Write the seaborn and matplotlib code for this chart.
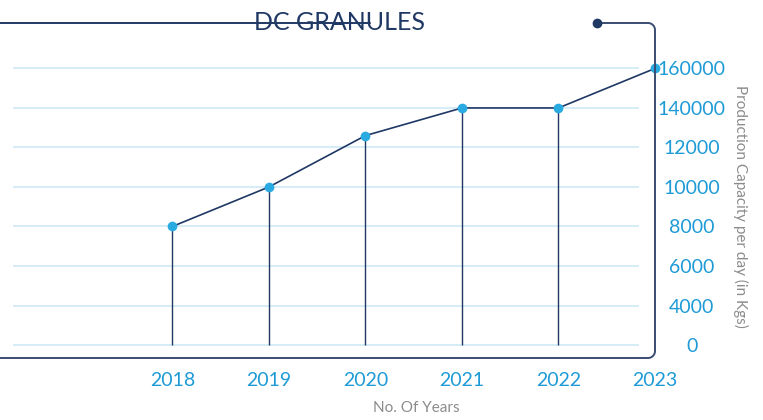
import numpy as np
import pandas as pd
import matplotlib
matplotlib.use("Agg")
import matplotlib.pyplot as plt
import seaborn as sns

# ==================== DATA ====================
years = [2018, 2019, 2020, 2021, 2022, 2023]
capacity = [8000, 10000, 12600, 14000, 14000, 16000]  # kgs per day
ytick_pos = [2000, 4000, 6000, 8000, 10000, 12000, 14000, 16000]
ytick_labels = ["0", "4000", "6000", "8000", "10000", "12000", "140000", "160000"]
title = "DC GRANULES"
xlabel = "No. Of Years"
ylabel = "Production Capacity per day (in Kgs)"

# ==================== STYLE ====================
navy = "#1f3864"
frame_col = "#3a4d72"
blue = "#1e9bd7"
dot_blue = "#29abe2"
grid_col = "#d2eaf7"
grey = "#8c8c8c"
sns.set_style("white")
plt.rcParams["font.family"] = ["Lato", "DejaVu Sans"]

W, H = 763, 420
fig = plt.figure(figsize=(W / 100, H / 100), dpi=100)
ax_l, ax_r, ax_t, ax_b = 0, 655, 23, 358  # axes box in pixels
ax = fig.add_axes([ax_l / W, 1 - ax_b / H, (ax_r - ax_l) / W, (ax_b - ax_t) / H])
aw, ah = ax_r - ax_l, ax_b - ax_t

df = pd.DataFrame({"year": years, "capacity": capacity})

# horizontal grid lines (only across the inner part)
ax.hlines(ytick_pos, 13 / aw, 639 / aw, transform=ax.get_yaxis_transform(),
          colors=grid_col, linewidth=1.3, zorder=1)
# stems
ax.vlines(df["year"], ytick_pos[0], df["capacity"], colors=navy, linewidth=1.0, zorder=2)
# line + markers
sns.lineplot(data=df, x="year", y="capacity", ax=ax, color=navy, linewidth=1.2,
             marker="o", markersize=7, markerfacecolor=dot_blue, markeredgewidth=0,
             zorder=3, clip_on=False)

ax.set_xlim(2018 - 172.3 / 96.5, 2023)
ax.set_ylim(1343, 18300)
ax.set_xticks(years)
ax.set_xticklabels([str(y) for y in years])
ax.set_yticks(ytick_pos)
ax.set_yticklabels(ytick_labels)
ax.yaxis.tick_right()
ax.tick_params(axis="both", length=0, labelsize=14, labelcolor=blue)
ax.tick_params(axis="x", pad=10)
ax.tick_params(axis="y", pad=26.6)
for lab in ax.get_yticklabels():
    lab.set_horizontalalignment("center")
for s in ax.spines.values():
    s.set_visible(False)

ax.set_xlabel(xlabel, fontsize=11, color=grey)
ax.xaxis.set_label_coords(416 / aw, -(408 - ax_b) / ah)
ax.xaxis.label.set_va("center")
ax.set_ylabel(ylabel, fontsize=11, color=grey, rotation=270)
ax.yaxis.set_label_position("right")
ax.yaxis.set_label_coords(741 / aw, (ax_b - 206) / ah)
ax.yaxis.label.set_va("center")
ax.yaxis.label.set_ha("center")

# rounded frame: bottom line -> right side -> top, ending with a dot
rx, ry = 7 / aw, 7 / ah
t1 = np.linspace(-np.pi / 2, 0, 15)
t2 = np.linspace(0, np.pi / 2, 15)
fx = np.concatenate([[0], 1 - rx + rx * np.cos(t1), 1 - rx + rx * np.cos(t2), [597 / aw]])
fy = np.concatenate([[0], ry + ry * np.sin(t1), 1 - ry + ry * np.sin(t2), [1]])
ax.plot(fx, fy, color=frame_col, linewidth=1.4, transform=ax.transAxes, clip_on=False, zorder=4)
ax.plot([597 / aw], [1], "o", color=navy, markersize=6, transform=ax.transAxes, clip_on=False, zorder=5)

# title with line running through it
fig.text(340 / W, 1 - 23 / H, title, ha="center", va="center", fontsize=18,
         color=navy, fontweight="normal")
ax.plot([0, 370 / aw], [1, 1], color=navy, linewidth=1.4, transform=ax.transAxes,
        clip_on=False, zorder=6)

fig.savefig("out.png", dpi=100)
